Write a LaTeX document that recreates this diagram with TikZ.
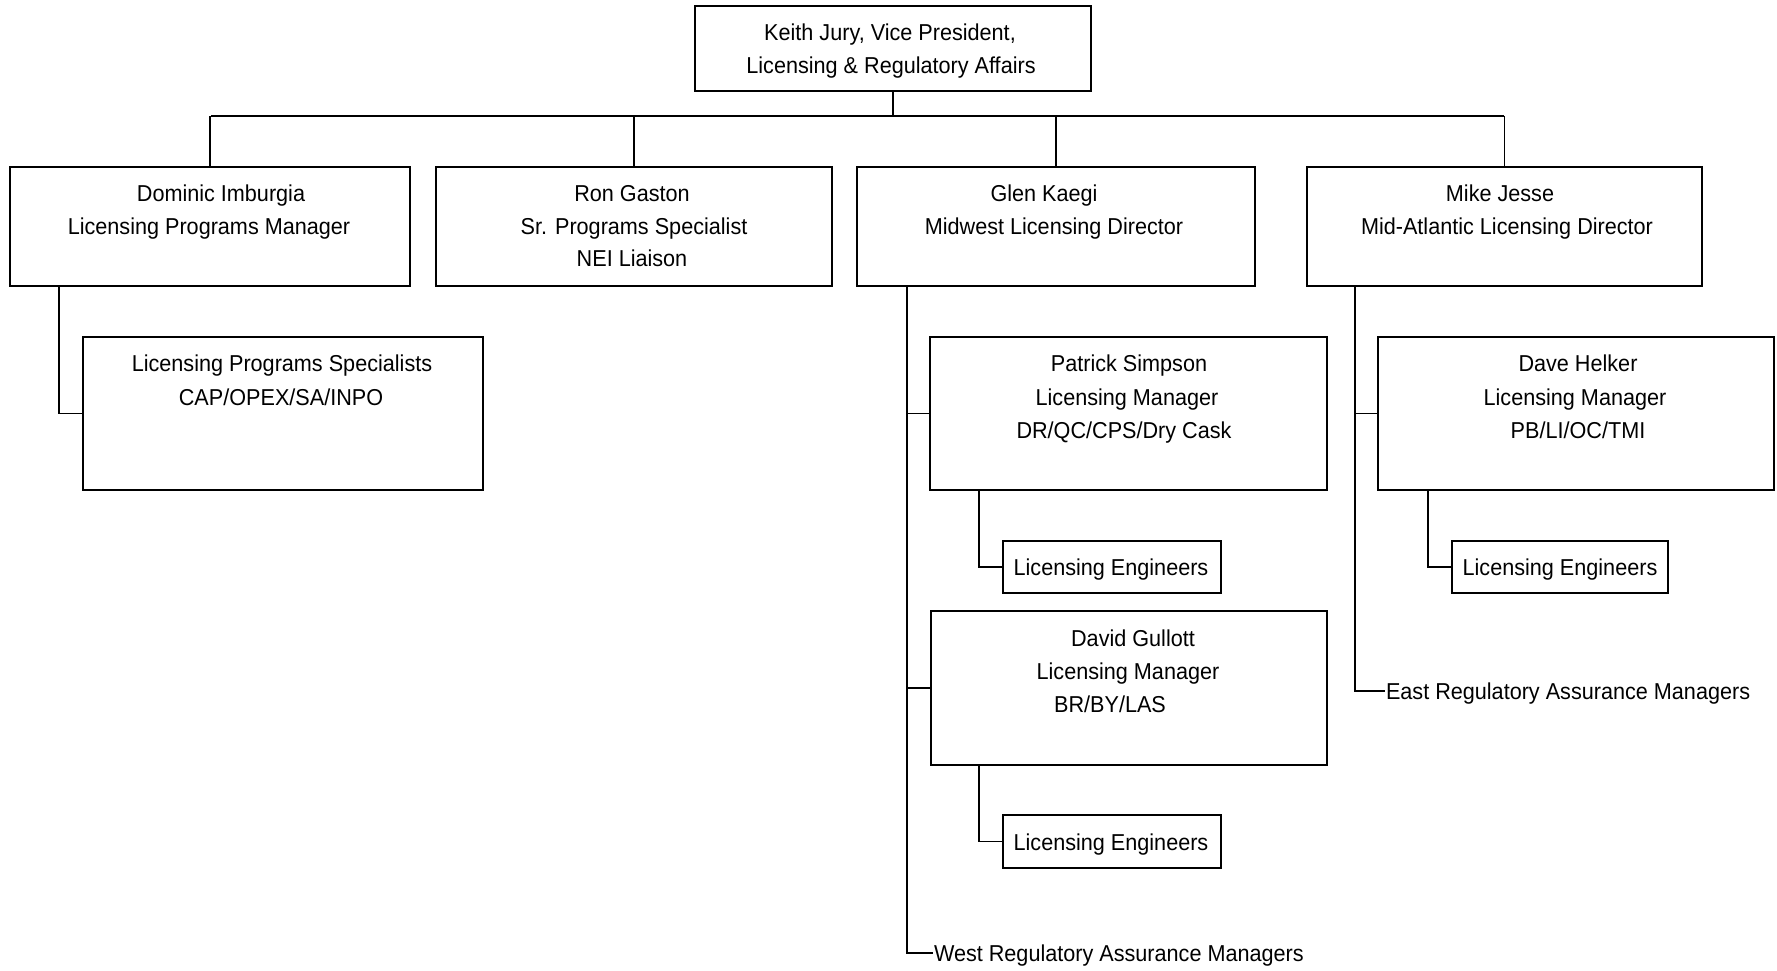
\documentclass[tikz,border=0pt]{standalone}
\usepackage{fontspec}
\setmainfont[FakeStretch=0.94]{Liberation Sans}
\begin{document}
\begin{tikzpicture}[x=1pt,y=-1pt,
  box/.style={draw=black,line width=1.8pt,rectangle,inner sep=0pt,outer sep=0pt,anchor=north west},
  txt/.style={inner sep=0pt,outer sep=0pt,anchor=center,text height=16.5pt,text depth=0pt,font=\fontsize{23}{33}\selectfont},
  ltxt/.style={txt,anchor=west,inner sep=1pt},
  conn/.style={draw=black,line width=1.8pt}]
\useasboundingbox[fill=white] (0,0) rectangle (1777,971);
% boxes
\node[box,minimum width=396pt,minimum height=85pt] (vp) at (695,6) {};
\node[box,minimum width=400pt,minimum height=119pt] (dom) at (10,167) {};
\node[box,minimum width=396pt,minimum height=119pt] (ron) at (436,167) {};
\node[box,minimum width=398pt,minimum height=119pt] (glen) at (857,167) {};
\node[box,minimum width=395pt,minimum height=119pt] (mike) at (1307,167) {};
\node[box,minimum width=400pt,minimum height=153pt] (spec) at (83,337) {};
\node[box,minimum width=397pt,minimum height=153pt] (pat) at (930,337) {};
\node[box,minimum width=396pt,minimum height=153pt] (dave) at (1378,337) {};
\node[box,minimum width=218pt,minimum height=52pt] (le1) at (1003,541) {};
\node[box,minimum width=396pt,minimum height=154pt] (dav) at (931,611) {};
\node[box,minimum width=218pt,minimum height=53pt] (le2) at (1003,815) {};
\node[box,minimum width=216pt,minimum height=52pt] (le3) at (1452,541) {};
% texts
\node[txt] (vp1) at (890,32) {Keith Jury, Vice President,};
\node[txt] (vp2) at (891,65) {Licensing \& Regulatory Affairs};
\node[txt] (dom1) at (221,193) {Dominic Imburgia};
\node[txt] (dom2) at (209,226) {Licensing Programs Manager};
\node[txt] (ron1) at (632,193) {Ron Gaston};
\node[txt] (ron2) at (634,226) {Sr. Programs Specialist};
\node[txt] (ron3) at (632,258) {NEI Liaison};
\node[txt] (glen1) at (1044,193) {Glen Kaegi};
\node[txt] (glen2) at (1054,226) {Midwest Licensing Director};
\node[txt] (mike1) at (1500,193) {Mike Jesse};
\node[txt] (mike2) at (1507,226) {Mid-Atlantic Licensing Director};
\node[txt] (spec1) at (282,363) {Licensing Programs Specialists};
\node[txt] (spec2) at (281,397) {CAP/OPEX/SA/INPO};
\node[txt] (pat1) at (1129,363) {Patrick Simpson};
\node[txt] (pat2) at (1127,397) {Licensing Manager};
\node[txt] (pat3) at (1124,430) {DR/QC/CPS/Dry Cask};
\node[txt] (dave1) at (1578,363) {Dave Helker};
\node[txt] (dave2) at (1575,397) {Licensing Manager};
\node[txt] (dave3) at (1578,430) {PB/LI/OC/TMI};
\node[txt] (dav1) at (1133,638) {David Gullott};
\node[txt] (dav2) at (1128,671) {Licensing Manager};
\node[txt] (dav3) at (1110,704) {BR/BY/LAS};
\node[txt] (le1t) at (1111,567) {Licensing Engineers};
\node[txt] (le2t) at (1111,842) {Licensing Engineers};
\node[txt] (le3t) at (1560,567) {Licensing Engineers};
\node[ltxt] (west) at (933,953) {West Regulatory Assurance Managers};
\node[ltxt] (east) at (1385,691) {East Regulatory Assurance Managers};
% connectors
\coordinate (busL) at (211,116);
\coordinate (busR) at (1504,116);
\coordinate (busM) at (893,116);
\draw[conn] (vp.south) -- (busM);
\draw[conn] (busL) -- (busR);
\draw[conn] (dom.north |- busL) -- (dom.north);
\draw[conn] (ron.north |- busL) -- (ron.north);
\draw[conn] (glen.north |- busL) -- (glen.north);
\draw[conn] (mike.north |- busL) -- (mike.north);
\draw[conn] ([xshift=49pt]dom.south west) |- (spec.west);
\draw[conn] ([xshift=50pt]glen.south west) |- (west.west);
\draw[conn] ([xshift=50pt]glen.south west |- pat.west) -- (pat.west);
\draw[conn] ([xshift=50pt]glen.south west |- dav.west) -- (dav.west);
\draw[conn] ([xshift=49pt]pat.south west) |- (le1.west);
\draw[conn] ([xshift=48pt]dav.south west) |- (le2.west);
\draw[conn] ([xshift=48pt]mike.south west) |- (east.west);
\draw[conn] ([xshift=48pt]mike.south west |- dave.west) -- (dave.west);
\draw[conn] ([xshift=50pt]dave.south west) |- (le3.west);
\end{tikzpicture}
\end{document}
